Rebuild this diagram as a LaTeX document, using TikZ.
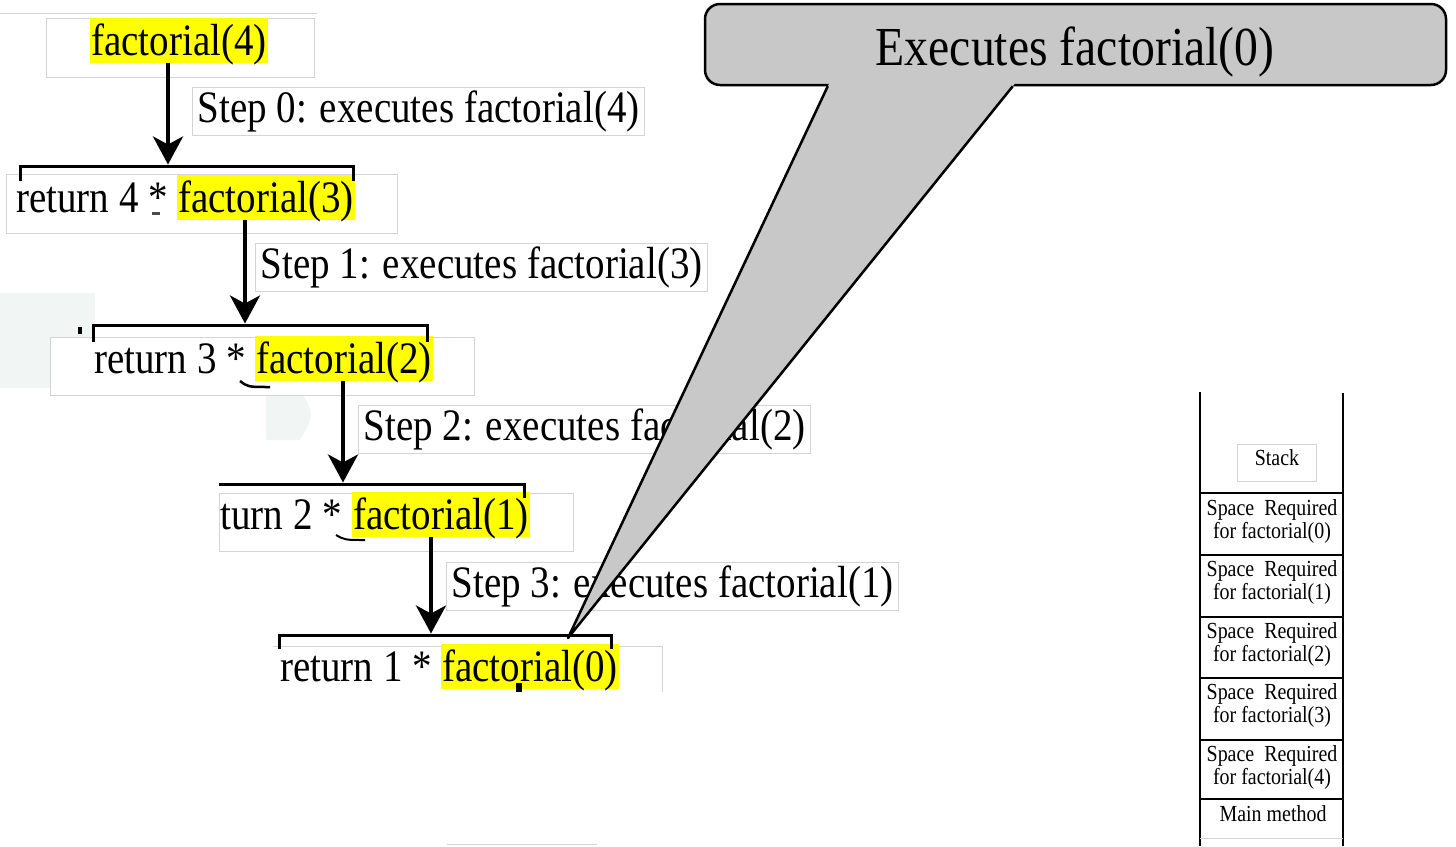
\documentclass[tikz,border=0pt]{standalone}
\usepackage{fontspec}
\setmainfont{Liberation Serif}
\usepackage{graphicx}
\usetikzlibrary{arrows.meta}
\newcommand\sx[1]{\scalebox{0.867}[1]{#1}}
\definecolor{framegray}{RGB}{212,212,212}
\definecolor{hlyellow}{RGB}{255,255,0}
\definecolor{callgray}{RGB}{200,200,200}
\definecolor{wmark}{RGB}{241,245,243}
\begin{document}
\begin{tikzpicture}[x=1pt,y=-1pt,
  big/.style={font=\fontsize{45}{54}\selectfont, inner sep=0pt, anchor=base west},
  hlbox/.style={big, fill=hlyellow, inner xsep=1pt, text height=37pt, text depth=8pt},
  steplbl/.style={font=\fontsize{45}{54}\selectfont, anchor=north west, draw=framegray, line width=1pt, fill=white, inner xsep=5pt, inner ysep=0pt, text height=35pt, text depth=13pt},
  fr/.style={draw=framegray, line width=1pt, fill=white},
  arr/.style={line width=4pt, -{Stealth[length=28pt,width=30pt,inset=8pt]}},
  brk/.style={line width=3pt},
  small/.style={font=\fontsize{23}{26}\selectfont, inner sep=0pt, anchor=base},
  stk/.style={line width=2.5pt}]
\useasboundingbox (0,0) rectangle (1456,846);
\fill[white] (0,0) rectangle (1456,846);

% faint watermark remnants
\fill[wmark] (0,293) rectangle (50,388);
\fill[wmark] (0,293) rectangle (95,337);
\fill[wmark] (266,395) -- (303,395) .. controls (314,415) .. (300,440) -- (266,440) -- cycle;

% frames behind the rows
\draw[framegray, line width=1pt] (0,13) -- (317,13);
\draw[fr] (46,18) rectangle (314,77);
\draw[fr] (6,174) rectangle (397,233);
\draw[fr] (50,337) rectangle (474,395);
\draw[fr] (219,493) rectangle (573,551);
\fill[white] (273,646) rectangle (662,692);
\draw[framegray, line width=1pt] (273,646) -- (662,646) -- (662,692);
\draw[framegray, line width=1pt] (447,844) -- (597,844);

% rows
\node[hlbox] (f4) at (90,55) {\sx{factorial(4)}};

\node[big] (t1) at (16,212) {\sx{return 4 *}};
\node[hlbox] (f3) at (177,212) {\sx{factorial(3)}};

\node[big] (t2) at (94,373) {\sx{return 3 *}};
\node[hlbox] (f2) at (255,373) {\sx{factorial(2)}};

\begin{scope}
  \clip (219,440) rectangle (600,560);
  \node[big] (t3) at (190,529) {\sx{return 2 *}};
\end{scope}
\node[hlbox] (f1) at (352,529) {\sx{factorial(1)}};

\node[big] (t4) at (280,681) {\sx{return 1 *}};
\node[hlbox] (f0) at (441,681) {\sx{factorial(0)}};

% small remnant marks
\fill (78,327) rectangle (82,334);
\fill[black!70] (152,212) rectangle (160,215);
\draw[line width=2.5pt] (240,381) .. controls (248,387) .. (270,387);
\draw[line width=2pt] (336,535) .. controls (345,540) .. (365,540);
\fill (516,683) rectangle (522,692);

% arrows and brackets
\coordinate (b0) at (168,164.5);
\draw[arr] (f4.south -| b0) -- (b0);
\draw[brk] (20,181) |- (353,166) -- (353,181);

\coordinate (b1) at (245,323.5);
\draw[arr] (f3.south -| b1) -- (b1);
\draw[brk] (93,342) |- (427,325) -- (427,342);

\coordinate (b2) at (343,482.5);
\draw[arr] (f2.south -| b2) -- (b2);
\draw[brk] (219,484) -- (524,484) -- (524,498);

\coordinate (b3) at (431,633.5);
\draw[arr] (f1.south -| b3) -- (b3);
\draw[brk] (279,649) |- (611,635) -- (611,649);

% step labels
\node[steplbl] (s0) at (192,87) {\sx{Step 0: executes factorial(4)}};
\node[steplbl] (s1) at (255,243) {\sx{Step 1: executes factorial(3)}};
\node[steplbl] (s2) at (358,405) {\sx{Step 2: executes factorial(2)}};
\node[steplbl] (s3) at (446,562) {\sx{Step 3: executes factorial(1)}};

% callout
\node[draw, line width=2.5pt, fill=callgray, rounded corners=15pt, minimum width=741pt, minimum height=81pt, inner sep=0pt] (call) at (1075.5,44.5) {};
\node[font=\fontsize{55}{60}\selectfont, inner sep=0pt, anchor=base] (calltxt) at (1075,65) {\sx{Executes factorial(0)}};
\coordinate (tip) at (568,638);
\coordinate (pl) at ([xshift=124pt]call.south west);
\coordinate (pr) at ([xshift=309pt]call.south west);
\fill[callgray] ([xshift=2pt,yshift=4pt]pl) -- (tip) -- ([xshift=3.2pt,yshift=4pt]pr) -- cycle;
\draw[line width=2.5pt, line join=round] (pl) -- (tip) -- (pr);

% stack
\draw[line width=2pt] (1200,392) -- (1200,846);
\draw[line width=2pt] (1343,393) -- (1343,846);
\node[draw=framegray, line width=1pt, anchor=north west, minimum width=79pt, inner xsep=0pt, inner ysep=0pt, text height=21pt, text depth=16pt, font=\fontsize{23}{26}\selectfont] (stacklbl) at (1237,444) {\sx{Stack}};
\foreach \y in {493,555,617,678,740,799}{
  \draw[stk] (1200,\y) -- (1343,\y);
}
\draw[framegray, line width=1pt] (1200,838) -- (1343,838);
\foreach \k/\n in {0/0,1/1,2/2,3/3,4/4}{
  \pgfmathsetmacro{\celltop}{493+61.5*\k}
  \node[small] (sa\k) at (1272,\celltop+22) {\sx{Space~ Required}};
  \node[small] (sb\k) at (1272,\celltop+45) {\sx{for factorial(\n)}};
}
\node[small] (mainm) at (1273,821) {\sx{Main method}};
\end{tikzpicture}
\end{document}
